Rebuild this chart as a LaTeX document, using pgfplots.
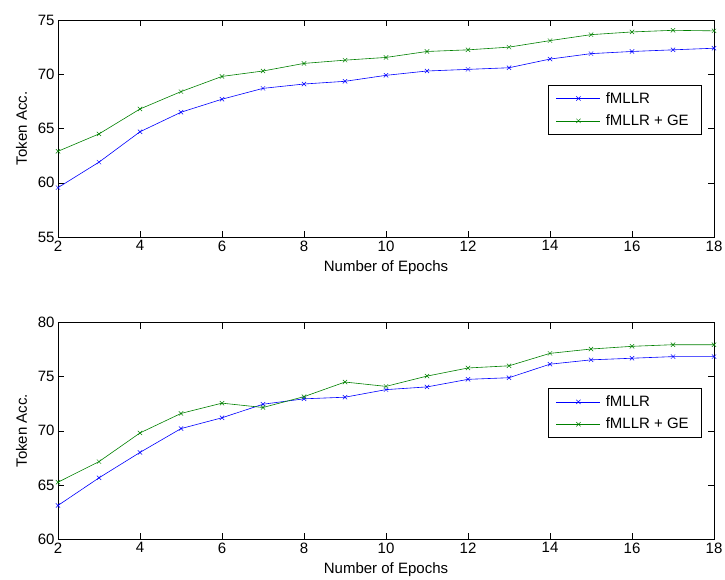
\documentclass[border=0pt]{standalone}
\usepackage{pgfplots}
\pgfplotsset{compat=1.18}
\usepackage{fontspec}
\setmainfont{Liberation Sans}
\definecolor{mblue}{rgb}{0,0,1}
\definecolor{mgreen}{rgb}{0,0.5,0}
\pgfplotsset{
  myax/.style={
    scale only axis,
    width=656pt,
    xmin=2, xmax=18,
    xtick={2,4,...,18},
    tick align=inside,
    major tick length=6pt,
    tick style={black, line width=0.5pt},
    axis line style={black, line width=0.6pt},
    /pgf/number format/assume math mode=true,
    ticklabel style={font=\fontsize{15}{17}\selectfont},
    label style={font=\fontsize{15}{17}\selectfont},
    xlabel={Number of Epochs},
    ylabel={Token Acc.},
    xlabel style={yshift=-3pt},
    ylabel style={yshift=4pt},
    legend cell align=left,
    legend style={draw=black, line width=0.6pt, font=\fontsize{15}{17}\selectfont,
      anchor=north east, inner xsep=8pt, inner ysep=5pt, row sep=6pt,
      nodes={inner xsep=5pt, inner ysep=2pt}},
    legend image code/.code={\draw[mark repeat=2,mark phase=2,#1] plot coordinates {(0pt,0pt)(22pt,0pt)(44pt,0pt)};},
    every axis plot/.append style={line width=0.6pt, mark=x, mark size=3pt, mark options={line width=0.5pt}},
  }
}
\begin{document}
\begin{tikzpicture}
\path[use as bounding box] (0pt,0pt) rectangle (725pt,-579pt);
\begin{axis}[myax, at={(58pt,-20pt)}, anchor=north west, height=217pt,
  ymin=55, ymax=75, ytick={55,60,...,75},
  legend style={at={(0.9817,0.7005)}}]
\addplot[color=mblue] coordinates {(2,59.55)(3,61.9)(4,64.7)(5,66.5)(6,67.7)(7,68.7)(8,69.1)(9,69.35)(10,69.9)(11,70.3)(12,70.45)(13,70.6)(14,71.4)(15,71.9)(16,72.1)(17,72.25)(18,72.4)};
\addlegendentry{fMLLR}
\addplot[color=mgreen] coordinates {(2,62.9)(3,64.5)(4,66.8)(5,68.4)(6,69.8)(7,70.3)(8,71.0)(9,71.3)(10,71.55)(11,72.1)(12,72.25)(13,72.5)(14,73.1)(15,73.65)(16,73.9)(17,74.05)(18,74.0)};
\addlegendentry{fMLLR + GE}
\end{axis}
\begin{axis}[myax, at={(58pt,-322.5pt)}, anchor=north west, height=216.5pt,
  ymin=60, ymax=80, ytick={60,65,...,80},
  legend style={at={(0.9817,0.6957)}}]
\addplot[color=mblue] coordinates {(2,63.1)(3,65.65)(4,68.0)(5,70.2)(6,71.2)(7,72.45)(8,72.95)(9,73.1)(10,73.8)(11,74.05)(12,74.75)(13,74.9)(14,76.15)(15,76.55)(16,76.7)(17,76.85)(18,76.85)};
\addlegendentry{fMLLR}
\addplot[color=mgreen] coordinates {(2,65.25)(3,67.15)(4,69.8)(5,71.6)(6,72.55)(7,72.15)(8,73.15)(9,74.5)(10,74.1)(11,75.05)(12,75.8)(13,76.0)(14,77.15)(15,77.55)(16,77.8)(17,77.95)(18,77.95)};
\addlegendentry{fMLLR + GE}
\end{axis}
\end{tikzpicture}
\end{document}
